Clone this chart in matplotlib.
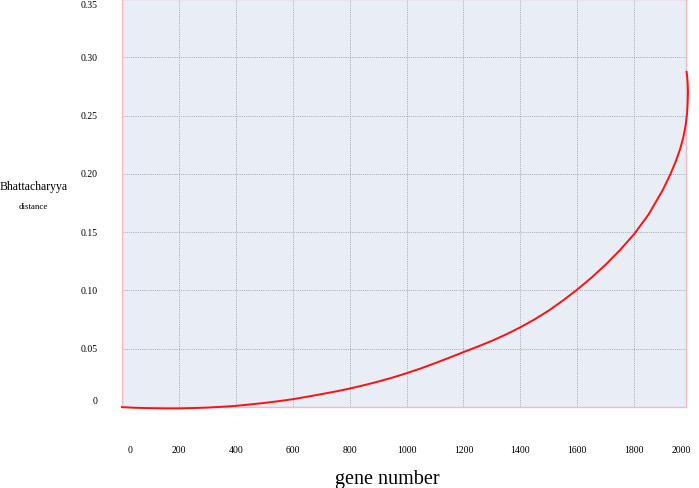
import matplotlib
matplotlib.use('Agg')
import matplotlib.pyplot as plt
import matplotlib.transforms as mtransforms

# gene number vs Bhattacharyya distance
genes = [0, 50, 100, 150, 200, 250, 300, 350, 400, 450, 500, 550,
         600, 650, 700, 750, 800, 850, 900, 950, 1000, 1050, 1100, 1150,
         1200, 1250, 1300, 1350, 1400, 1450, 1500, 1550, 1600, 1650, 1700,
         1750, 1800, 1850, 1900, 1925, 1945, 1961, 1973, 1981, 1986, 1988,
         1989, 1988, 1986, 1984]
dist = [-0.0001, -0.0007, -0.0010, -0.0012, -0.0012, -0.0009, -0.0005,
        0.0002, 0.0010, 0.0022, 0.0035, 0.0050,
        0.0067, 0.0088, 0.0110, 0.0133, 0.0158, 0.0187, 0.0218, 0.0252,
        0.0290, 0.0331, 0.0376, 0.0423,
        0.0471, 0.0518, 0.0568, 0.0623, 0.0684, 0.0752, 0.0828, 0.0914,
        0.1008, 0.1110, 0.1222, 0.1346, 0.1484, 0.1650, 0.1860, 0.1985,
        0.2101, 0.2210, 0.2318, 0.2422, 0.2527, 0.2617, 0.270, 0.278, 0.284,
        0.2875]

x_ticks = [0, 200, 400, 600, 800, 1000, 1200, 1400, 1600, 1800, 2000]
y_ticks = [0, 0.05, 0.10, 0.15, 0.20, 0.25, 0.30, 0.35]
y_labels = ['0', '0.05', '0.10', '0.15', '0.20', '0.25', '0.30', '0.35']

serif = ['Liberation Serif', 'DejaVu Serif']

fig = plt.figure(figsize=(6.99, 4.89), dpi=100)
ax = fig.add_axes([0.1745, 0.1656, 0.8069, 0.8344])
ax.set_facecolor('#e8edf6')

ax.plot(genes, dist, color='#ff1010', lw=1.4, clip_on=False, zorder=3,
        solid_joinstyle='round')

ax.set_xlim(0, 1982)
ax.set_ylim(0, 0.35)

# grid lines only at the inner ticks
ax.set_xticks(x_ticks[1:-1])
ax.set_xticklabels([])
ax.set_yticks(y_ticks[1:-1])
ax.set_yticklabels([])
ax.tick_params(length=0)
ax.grid(True, color='#a3a7b0', ls=(0, (1.3, 1.3)), lw=0.6)

for s in ax.spines.values():
    s.set_color('#f7b8c4')
    s.set_linewidth(1.0)

# tick labels drawn as text (the end ones sit inside the frame in the original)
xt = mtransforms.blended_transform_factory(ax.transData, ax.transAxes)
for g, lab in zip(x_ticks, [str(v) for v in x_ticks]):
    xpos = g
    if g == 0:
        xpos = 28
    elif g == 2000:
        xpos = 1965
    ax.text(xpos, -0.105, lab, transform=xt, ha='center', va='center',
            fontsize=7, family=serif)

yt = mtransforms.blended_transform_factory(ax.transAxes, ax.transData)
for v, lab in zip(y_ticks, y_labels):
    ypos = v
    if v == 0:
        ypos = 0.006
    elif v == 0.35:
        ypos = 0.345
    ax.text(-0.043, ypos, lab, transform=yt, ha='right', va='center',
            fontsize=7, family=serif)

fig.text(34 / 699, 1 - 187 / 489, 'Bhattacharyya', ha='center', va='center',
         fontsize=8.5, family=serif)
fig.text(33 / 699, 1 - 207 / 489, 'distance', ha='center', va='center',
         fontsize=6.4, family=serif)
fig.text(387 / 699, 1 - 480 / 489, 'gene number', ha='center', va='center',
         fontsize=14.5, family=serif)

fig.savefig('out.png', dpi=100)
